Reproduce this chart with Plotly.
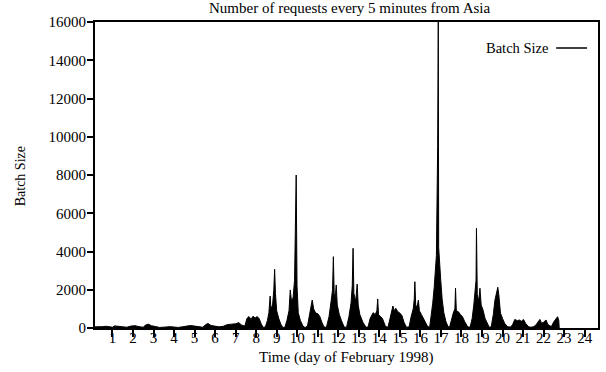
import plotly.graph_objects as go

# time in days (February 1998)
time_days = [
    0.15, 0.3, 0.5, 0.7, 0.9, 1.0, 1.1, 1.3, 1.5, 1.7, 1.9, 2.1, 2.3, 2.5, 2.6, 2.75, 2.9,
    3.1, 3.3, 3.6, 3.8, 4.0, 4.2, 4.4, 4.6, 4.8, 5.0, 5.2, 5.4, 5.55, 5.65, 5.8, 6.0, 6.2,
    6.4, 6.6, 6.8, 7.0, 7.15, 7.3, 7.45, 7.55, 7.65, 7.75, 7.85, 7.95, 8.05, 8.15, 8.25,
    8.35, 8.45, 8.55, 8.62, 8.68, 8.72, 8.8, 8.86, 8.9, 8.94, 9.0, 9.1, 9.2, 9.3, 9.4,
    9.5, 9.6, 9.66, 9.72, 9.8, 9.87, 9.95, 9.99, 10.05, 10.15, 10.28, 10.38,
    10.5, 10.6, 10.73, 10.8, 10.9, 11.0, 11.1, 11.2, 11.3, 11.42,
    11.55, 11.65, 11.72, 11.76, 11.8, 11.85, 11.9, 11.95, 12.05, 12.15, 12.28, 12.4,
    12.52, 12.62, 12.68, 12.72, 12.76, 12.85, 12.92, 12.97, 13.05, 13.2, 13.35, 13.45,
    13.55, 13.7, 13.8, 13.88, 13.92, 13.96, 14.05, 14.15, 14.3, 14.42,
    14.52, 14.62, 14.66, 14.72, 14.8, 14.9, 15.0, 15.1, 15.2, 15.32, 15.45,
    15.55, 15.65, 15.7, 15.73, 15.77, 15.84, 15.9, 15.95, 16.05, 16.2, 16.35, 16.45,
    16.52, 16.6, 16.67, 16.72, 16.78, 16.84, 16.87, 16.89, 16.93, 16.99, 17.06, 17.14,
    17.24, 17.34, 17.42,
    17.5, 17.6, 17.68, 17.71, 17.75, 17.85, 17.95, 18.05, 18.15, 18.3, 18.42,
    18.52, 18.6, 18.65, 18.71, 18.73, 18.77, 18.84, 18.9, 18.96, 19.05, 19.15, 19.25, 19.35, 19.45,
    19.55, 19.63, 19.72, 19.77, 19.82, 19.9, 20.0, 20.1, 20.25, 20.4,
    20.5, 20.6, 20.72, 20.82, 20.92, 21.02, 21.12, 21.25, 21.35, 21.5,
    21.62, 21.75, 21.82, 21.9, 22.0, 22.12, 22.2, 22.3, 22.38, 22.5, 22.62, 22.68, 22.74, 22.76,
]

batch_size = [
    60, 80, 70, 90, 60, 40, 110, 80, 50, 40, 100, 120, 70, 40, 150, 200, 120,
    60, 30, 50, 70, 50, 30, 60, 110, 130, 100, 60, 40, 180, 240, 130, 110, 60,
    90, 180, 200, 220, 280, 150, 100, 500, 600, 450, 620, 520, 600, 480, 200,
    30, 60, 400, 800, 1670, 1000, 1200, 2000, 3070, 1800, 900, 500, 200, 30, 40,
    400, 900, 1990, 1400, 1600, 2500, 8000, 2200, 800, 400, 100, 20,
    100, 700, 1460, 1000, 780, 750, 600, 300, 60, 30,
    600, 1400, 2000, 3730, 1800, 1600, 2250, 1200, 700, 400, 60, 30,
    600, 1300, 2200, 4170, 1800, 1400, 2300, 1200, 700, 300, 40, 50,
    500, 800, 700, 900, 1520, 700, 600, 500, 80, 40,
    500, 900, 1150, 900, 1030, 850, 780, 650, 300, 40, 60,
    600, 1000, 1500, 2420, 1200, 1100, 1460, 900, 700, 400, 80, 40,
    600, 1300, 2100, 2900, 3800, 9500, 16000, 4200, 3300, 2500, 1500, 800,
    350, 80, 40,
    400, 780, 1000, 2080, 900, 850, 700, 590, 350, 60, 40,
    500, 1200, 1810, 2500, 5210, 1750, 1400, 2080, 1200, 940, 500, 250, 40, 60,
    700, 1460, 1900, 2130, 1730, 780, 500, 250, 60, 50,
    200, 450, 380, 420, 350, 450, 250, 80, 40, 60,
    150, 330, 450, 250, 300, 420, 200, 120, 80, 330, 500, 590, 400, 0,
]

day_ticks = list(range(1, 25))
y_ticks = [0, 2000, 4000, 6000, 8000, 10000, 12000, 14000, 16000]

W, H = 606, 372
L, R, T, B = 95, 6, 22, 44
pw, ph = W - L - R, H - T - B

def px(x):
    return (x - L) / pw

def py(y):
    return (H - B - y) / ph

FONT = "Liberation Serif, Times New Roman, serif"

fig = go.Figure()
fig.add_trace(go.Scatter(
    x=time_days, y=batch_size, mode="lines",
    line=dict(color="black", width=1),
    fill="tozeroy", fillcolor="black",
    name="Batch Size", showlegend=False,
))

fig.update_layout(
    width=W, height=H,
    margin=dict(l=L, r=R, t=T, b=B),
    paper_bgcolor="white", plot_bgcolor="white",
    font=dict(family=FONT, size=15, color="black"),
    xaxis=dict(
        range=[0.15, 24.65], tickvals=day_ticks, ticktext=[str(d) for d in day_ticks],
        showgrid=False, zeroline=False, showline=True, mirror=True,
        linecolor="black", linewidth=2, ticks="outside", ticklen=7,
        tickwidth=2, tickcolor="black", tickfont=dict(size=15),
        ticklabelstandoff=-12,
    ),
    yaxis=dict(
        range=[0, 16000], tickvals=y_ticks, ticktext=[str(v) for v in y_ticks],
        showgrid=False, zeroline=False, showline=True, mirror=True,
        linecolor="black", linewidth=2, ticks="outside", ticklen=6,
        tickwidth=2, tickcolor="black", tickfont=dict(size=15),
        ticklabelstandoff=-2,
    ),
    showlegend=False,
)

annotations = [
    dict(text="Number of requests every 5 minutes from Asia", x=px(351), y=py(8),
         xref="paper", yref="paper", showarrow=False, xanchor="center", yanchor="middle",
         font=dict(size=15)),
    dict(text="Batch Size", x=px(20), y=py(176), xref="paper", yref="paper",
         showarrow=False, textangle=-90, xanchor="center", yanchor="middle",
         font=dict(size=14)),
    dict(text="Time (day of February 1998)", x=px(347), y=py(357), xref="paper",
         yref="paper", showarrow=False, xanchor="center", yanchor="middle",
         font=dict(size=15)),
    dict(text="Batch Size", x=px(552), y=py(48), xref="paper", yref="paper",
         showarrow=False, xanchor="right", yanchor="middle", font=dict(size=14.5)),
]
fig.update_layout(annotations=annotations)
fig.add_shape(type="line", xref="paper", yref="paper",
              x0=px(558), x1=px(589), y0=py(48), y1=py(48),
              line=dict(color="black", width=1.5))

fig.write_html(
    "out.html",
    config={"displayModeBar": False},
    post_script="document.body.style.margin='0';document.body.style.padding='0';",
)
